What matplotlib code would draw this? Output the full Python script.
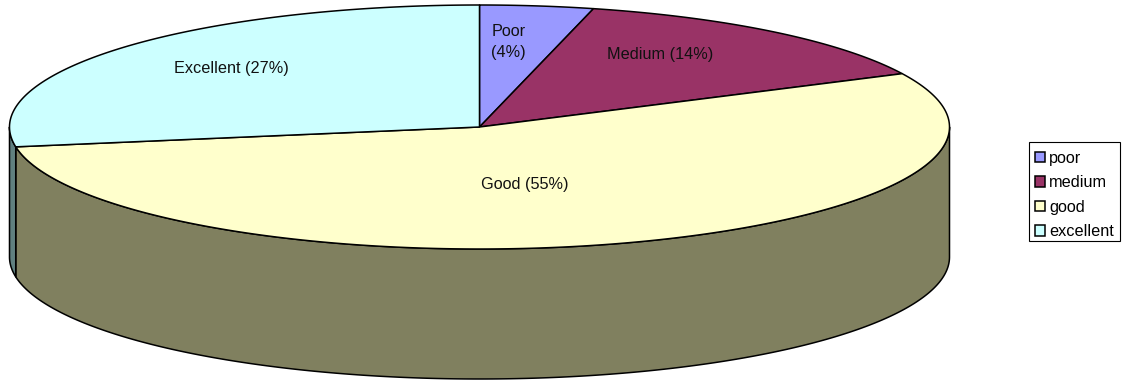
import numpy as np
import matplotlib
matplotlib.use("Agg")
import matplotlib.pyplot as plt
from matplotlib.patches import Patch, Rectangle

# values behind the rounded labels
categories = ["poor", "medium", "good", "excellent"]
values = [3.9, 13.9, 54.6, 27.6]
slice_labels = ["Poor\n(4%)", "Medium (14%)", "Good (55%)", "Excellent (27%)"]
colors = ["#9999ff", "#993366", "#ffffcc", "#ccffff"]
side_colors = ["#60608f", "#602040", "#80805f", "#608080"]

plt.rcParams["font.family"] = ["Liberation Sans", "DejaVu Sans"]

# pie ellipse, in pixels
cx, cy = 479.5, 127
rx, ry = 470, 122
depth = 130


def ellipse_xy(t):
    # t in degrees, clockwise from 12 o'clock
    t = np.radians(t)
    return cx + rx * np.sin(t), cy - ry * np.cos(t)


fig = plt.figure(figsize=(11.24, 3.81), dpi=100)
ax = fig.add_axes([0, 0, 1, 1])
ax.set_xlim(0, 1124)
ax.set_ylim(381, 0)
ax.axis("off")

edges = np.concatenate([[0], np.cumsum(values)]) / np.sum(values) * 360

# sides first, only the front half of the rim shows
for i in range(len(values)):
    start = max(edges[i], 90)
    end = min(edges[i + 1], 270)
    if end <= start:
        continue
    t = np.linspace(start, end, 300)
    x, y = ellipse_xy(t)
    ax.fill(
        np.concatenate([x, x[::-1]]),
        np.concatenate([y, y[::-1] + depth]),
        facecolor=side_colors[i],
        edgecolor="black",
        linewidth=1.1,
        joinstyle="round",
    )

# top faces
for i in range(len(values)):
    t = np.linspace(edges[i], edges[i + 1], 300)
    x, y = ellipse_xy(t)
    ax.fill(
        np.concatenate([[cx], x]),
        np.concatenate([[cy], y]),
        facecolor=colors[i],
        edgecolor="black",
        linewidth=1.1,
        joinstyle="round",
    )

label_pos = [(508.5, 42), (660, 54), (525, 185), (231, 68)]
for label, (lx, ly) in zip(slice_labels, label_pos):
    ax.text(lx, ly, label, ha="center", va="center", fontsize=11.7, color="#111111", linespacing=1.5)

# legend frame drawn apart so the rows can sit low in the box
ax.add_patch(Rectangle((1028.5, 141.5), 91.5, 99.5, facecolor="white", edgecolor="black", linewidth=0.8))
handles = [Patch(facecolor=c, edgecolor="black", linewidth=1.1) for c in colors]
legend = ax.legend(
    handles,
    categories,
    loc="upper left",
    bbox_to_anchor=(1030 / 1124, 1 - 145.5 / 381),
    borderaxespad=0,
    fontsize=11.7,
    frameon=False,
    handlelength=0.62,
    handleheight=0.62,
    handletextpad=0.25,
    labelspacing=0.58,
    borderpad=0.32,
)

fig.savefig("out.png", dpi=100)
